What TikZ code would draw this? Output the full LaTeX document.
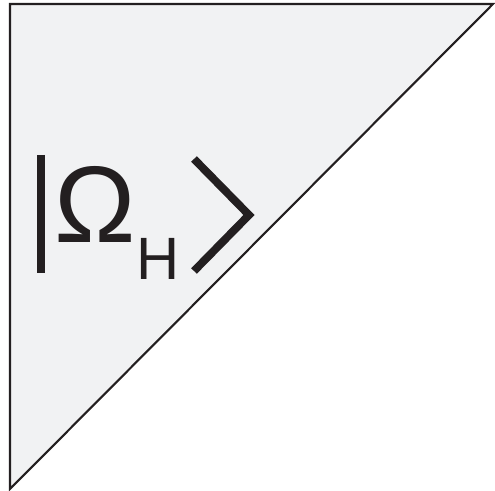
\documentclass[tikz,border=0pt]{standalone}
\usepackage{fontspec}
\setmainfont{Liberation Sans}
\usepackage{tikz}
\definecolor{inkblack}{HTML}{231F20}
\definecolor{paneGray}{HTML}{F1F2F3}
\begin{document}
\begin{tikzpicture}[x=1cm,y=1cm]
\path[use as bounding box] (0,0) rectangle (9.9,9.82);
\coordinate (tl) at (0.2,9.74);
\coordinate (tr) at (9.86,9.74);
\coordinate (bl) at (0.2,0.04);
\filldraw[fill=paneGray,draw=inkblack,line width=1.2pt,line join=miter] (tl) -- (tr) -- (bl) -- cycle;
% ket |Omega_H>
\draw[inkblack,line width=4.5pt] (0.82,6.72) -- (0.82,4.36);
\node[anchor=base,inner sep=0pt,text=inkblack,font=\fontsize{62}{70}\selectfont] (omega) at (1.9,4.96) {Ω};
\node[anchor=base,inner sep=0pt,text=inkblack,font=\fontsize{34}{40}\selectfont] (sub) at (3.16,4.22) {H};
\draw[inkblack,line width=4.5pt,line join=miter] (3.88,6.64) -- (4.98,5.52) -- (3.88,4.40);
\end{tikzpicture}
\end{document}
